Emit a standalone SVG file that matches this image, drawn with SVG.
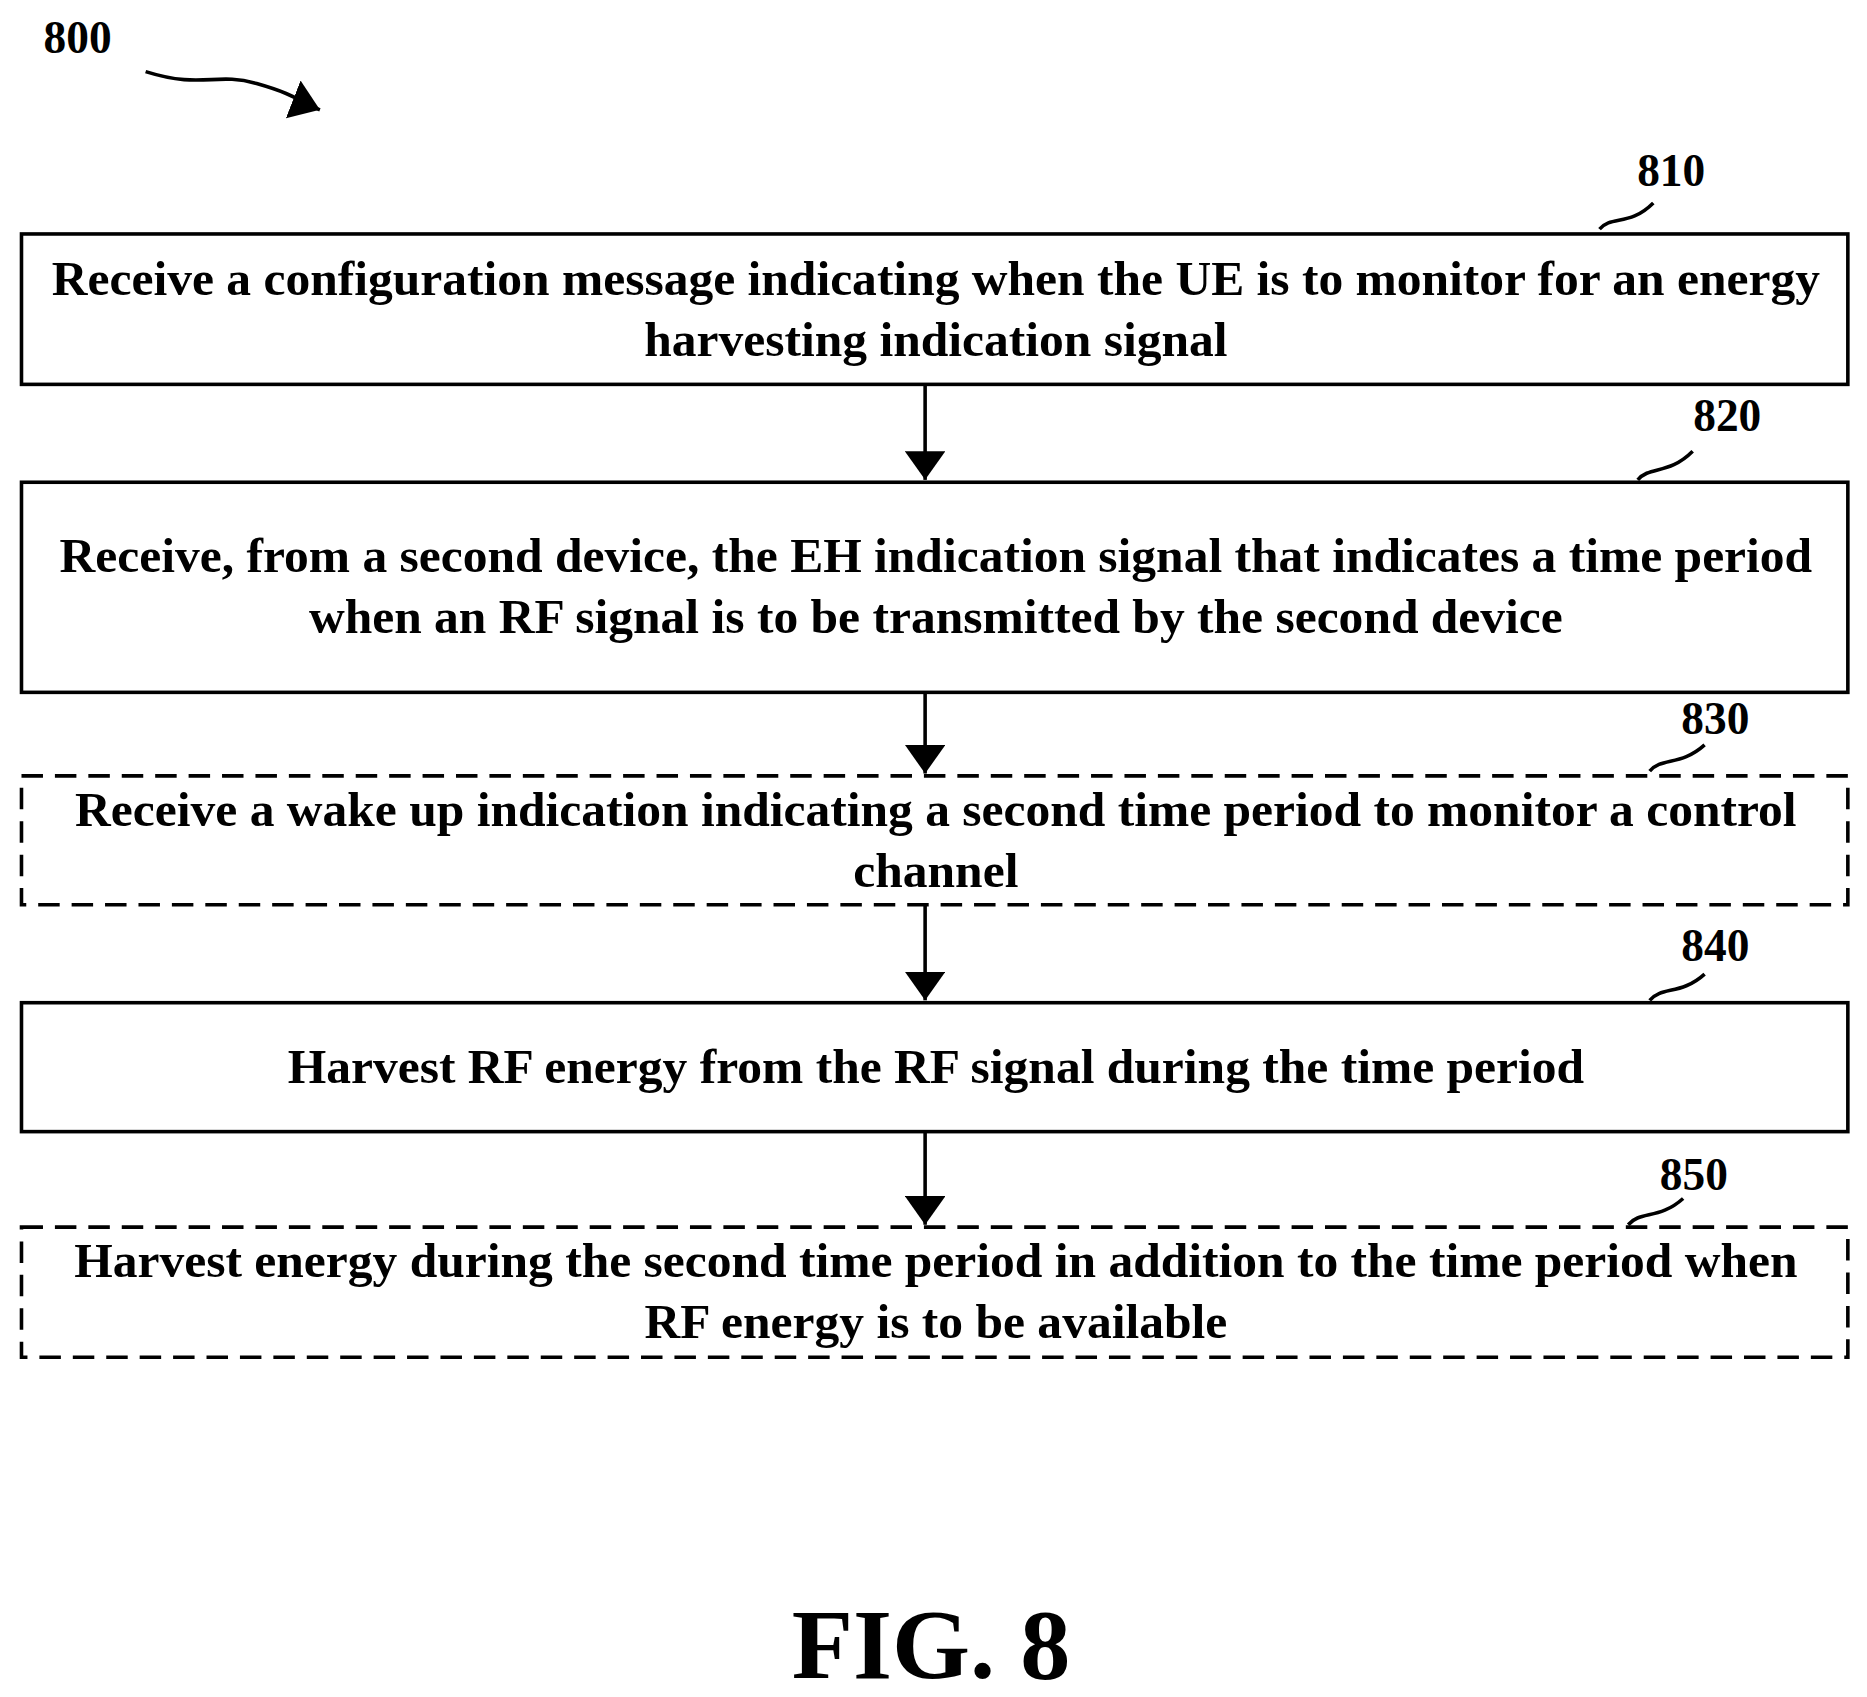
<svg xmlns="http://www.w3.org/2000/svg" width="1867" height="1697" viewBox="0 0 1867 1697">
<style>
.t{font-family:"Liberation Serif","Times New Roman",serif;font-weight:bold;font-size:41.5px;fill:#000;text-anchor:middle}
.l{font-family:"Liberation Serif","Times New Roman",serif;font-weight:bold;font-size:38px;fill:#000;text-anchor:middle}
.b{fill:#fff;stroke:#000;stroke-width:3}
.d{fill:#fff;stroke:#000;stroke-width:3;stroke-dasharray:18,10}
.c{fill:none;stroke:#000;stroke-width:3}
</style>
<defs>
<marker id="ah" viewBox="0 0 10 10" refX="10" refY="5" markerWidth="24" markerHeight="34" markerUnits="userSpaceOnUse" orient="auto" preserveAspectRatio="none"><path d="M0,0L10,5L0,10z"/></marker></defs>
<rect width="1867" height="1697" fill="#fff"/>
<g transform="scale(1.1937)">
<g id="title"><text class="l" x="65" y="44">800</text><path class="c" d="M122,60C170,75 180,60 215,70S250,85 268,92" marker-end="url(#ah)"/></g>
<g id="n810"><rect class="b" x="18" y="196" width="1530" height="126"/><text class="t" x="784" y="247">Receive a configuration message indicating when the UE is to monitor for an energy</text><text class="t" x="784" y="298">harvesting indication signal</text><text class="l" x="1400" y="156">810</text><path class="c" d="M1340,192C1350,180 1365,190 1385,170"/></g>
<g id="n820"><rect class="b" x="18" y="404" width="1530" height="176"/><text class="t" x="784" y="479">Receive, from a second device, the EH indication signal that indicates a time period</text><text class="t" x="784" y="530">when an RF signal is to be transmitted by the second device</text><text class="l" x="1447" y="361">820</text><path class="c" d="M1372,402C1382,390 1398,398 1418,378"/></g>
<g id="n830"><rect class="d" x="18" y="650" width="1530" height="108"/><text class="t" x="784" y="692">Receive a wake up indication indicating a second time period to monitor a control</text><text class="t" x="784" y="743">channel</text><text class="l" x="1437" y="615">830</text><path class="c" d="M1382,646C1392,634 1408,642 1428,624"/></g>
<g id="n840"><rect class="b" x="18" y="840" width="1530" height="108"/><text class="t" x="784" y="907">Harvest RF energy from the RF signal during the time period</text><text class="l" x="1437" y="805">840</text><path class="c" d="M1382,838C1392,826 1408,834 1428,816"/></g>
<g id="n850"><rect class="d" x="18" y="1028" width="1530" height="109"/><text class="t" x="784" y="1070">Harvest energy during the second time period in addition to the time period when</text><text class="t" x="784" y="1121">RF energy is to be available</text><text class="l" x="1419" y="997">850</text><path class="c" d="M1364,1026C1374,1014 1390,1022 1410,1004"/></g>
<g id="connectors">
<path class="c" d="M775,322V402" marker-end="url(#ah)"/>
<path class="c" d="M775,580V648" marker-end="url(#ah)"/>
<path class="c" d="M775,758V838" marker-end="url(#ah)"/>
<path class="c" d="M775,948V1026" marker-end="url(#ah)"/>
</g>
<text class="t" x="780" y="1406" style="font-size:84px">FIG. 8</text>
</g>
</svg>
